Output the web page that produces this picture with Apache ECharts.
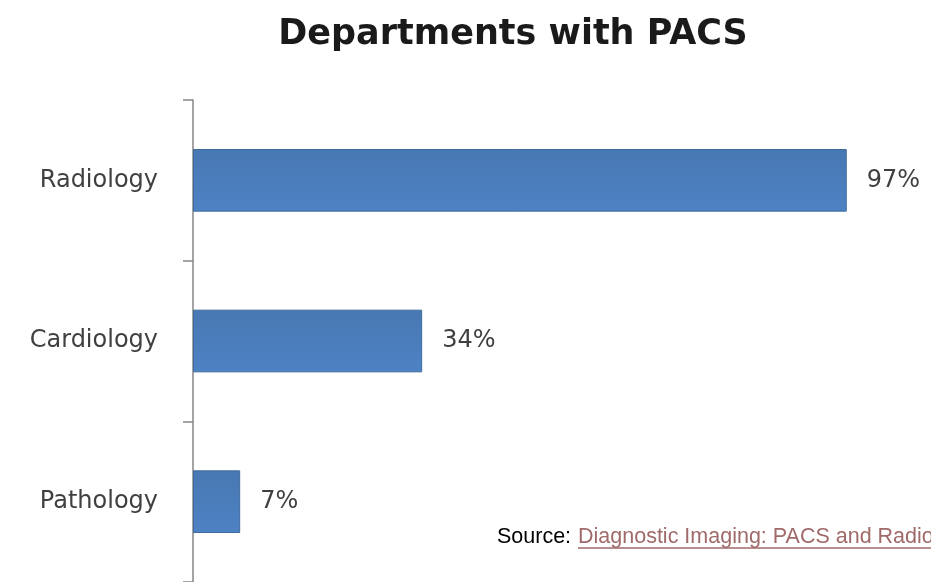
<!DOCTYPE html>
<html><head><meta charset="utf-8">
<script src="https://cdn.jsdelivr.net/npm/echarts@6/dist/echarts.min.js"></script>
<style>html,body{margin:0;padding:0;background:#fff}#c{width:931px;height:582px}</style>
</head><body><div id="c"></div>
<script>
const categories = ['Radiology', 'Cardiology', 'Pathology'];
const values = [97, 34, 7];
const titleText = 'Departments with PACS';
const sourceLabel = 'Source:';
const sourceLink = 'Diagnostic Imaging: PACS and Radiology';

const chart = echarts.init(document.getElementById('c'));
chart.setOption({
  animation: false,
  backgroundColor: '#ffffff',
  title: {
    text: titleText, left: 508, top: 12, textAlign: 'center',
    textStyle: { fontFamily: 'DejaVu Sans', fontWeight: 'bold', fontSize: 35, color: '#1a1a1a' }
  },
  grid: { left: 193, top: 100, width: 674, height: 483, containLabel: false },
  xAxis: {
    type: 'value', min: 0, max: 100, show: false
  },
  yAxis: {
    type: 'category', data: categories, inverse: true,
    axisLine: { show: true, lineStyle: { color: '#868686', width: 1.5 } },
    axisTick: { show: true, length: 10, lineStyle: { color: '#868686', width: 1.5 } },
    axisLabel: { margin: 35, fontFamily: 'DejaVu Sans', fontSize: 24, color: '#404040' },
    splitLine: { show: false }
  },
  series: [{
    type: 'bar', data: values, barWidth: '39%',
    itemStyle: {
      color: new echarts.graphic.LinearGradient(0, 0, 0, 1, [
        { offset: 0, color: '#4878b2' }, { offset: 1, color: '#4d82c4' }
      ]),
      borderColor: '#3f6c9e', borderWidth: 1
    },
    label: { show: true, position: 'right', distance: 20, formatter: '{c}%',
      fontFamily: 'DejaVu Sans', fontSize: 24, color: '#404040' }
  }],
  graphic: [
    { type: 'text', left: 497, top: 526, style: { text: sourceLabel, font: '21.5px "Liberation Sans", Arial', fill: '#000' } },
    { type: 'text', left: 578, top: 526, style: { text: sourceLink, font: '21.5px "Liberation Sans", Arial', fill: '#a06a6a' } },
    { type: 'line', shape: { x1: 578, y1: 548, x2: 931, y2: 548 }, style: { stroke: '#a06a6a', lineWidth: 1.5 } }
  ]
});
</script></body></html>
